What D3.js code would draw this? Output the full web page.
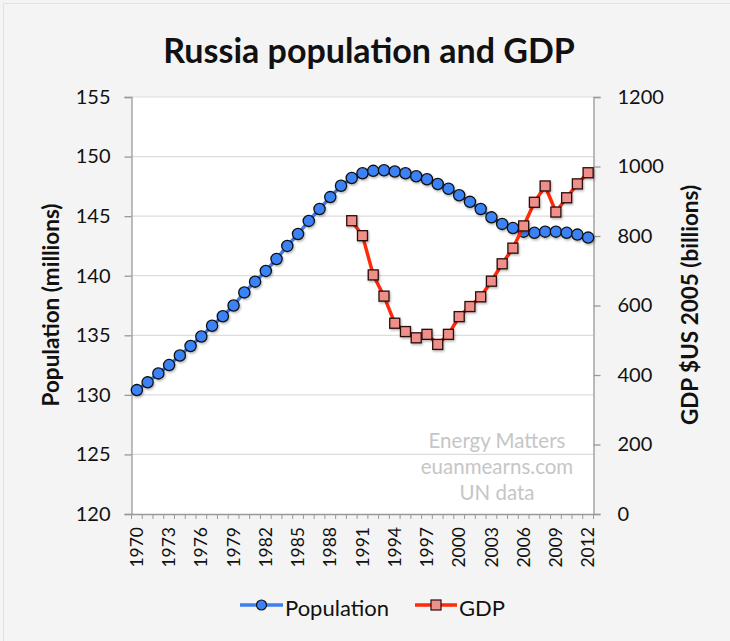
<!DOCTYPE html>
<html>
<head>
<meta charset="utf-8">
<script src="https://cdn.jsdelivr.net/npm/d3@7"></script>
<style>
  body { margin: 0; background: #f4f4f4; }
  svg text { font-family: Lato, "Open Sans", sans-serif; fill: #111; }
</style>
</head>
<body>
<script>

const years = d3.range(1970, 2013)

const population = [130.4, 131.05, 131.8, 132.5, 133.3, 134.1, 134.9, 135.8, 136.6, 137.5,
    138.6, 139.5, 140.4, 141.4, 142.5, 143.5, 144.6, 145.6, 146.6, 147.55,
    148.2, 148.6, 148.8, 148.85, 148.75, 148.6, 148.35, 148.1, 147.7, 147.3,
    146.75, 146.2, 145.6, 144.9, 144.35, 144.0, 143.7, 143.6, 143.7, 143.7,
    143.6, 143.45, 143.2]

const gdpYears = d3.range(1990, 2013)
const gdp = [844, 801, 688, 627, 549, 525, 507, 517, 488, 517,
    568, 597, 625, 670, 720, 765, 829, 897, 944, 869,
    910, 950, 982]

const popTicks = [120, 125, 130, 135, 140, 145, 150, 155]
const gdpTicks = [0, 200, 400, 600, 800, 1000, 1200]
const yearLabels = d3.range(1970, 2013, 3)
const watermark = ['Energy Matters', 'euanmearns.com', 'UN data']

const W = 730, H = 641
const mL = 131.5, mR = 593.5, mT = 97, mB = 514

const svg = d3.select('body')
    .append('svg')
    .attr('width', W)
    .attr('height', H)
    .style('display', 'block')

svg.append('rect')
    .attr('x', 3.5).attr('y', 3.5)
    .attr('width', W - 3).attr('height', H - 3)
    .attr('fill', '#f4f4f4')
    .attr('stroke', '#e2e2e2')

const x = d3.scaleBand()
    .domain(years)
    .range([mL, mR])

const yPop = d3.scaleLinear()
    .domain([120, 155])
    .range([mB, mT])

const yGdp = d3.scaleLinear()
    .domain([0, 1200])
    .range([mB, mT])

const cx = d => x(d) + x.bandwidth() / 2

// plot area
svg.append('rect')
    .attr('x', mL).attr('y', mT)
    .attr('width', mR - mL).attr('height', mB - mT)
    .attr('fill', '#fff')

svg.append('g')
    .selectAll('line')
    .data(popTicks.slice(1))
    .join('line')
    .attr('x1', mL).attr('x2', mR)
    .attr('y1', d => yPop(d)).attr('y2', d => yPop(d))
    .attr('stroke', '#dcdcdc')
    .attr('stroke-width', 1.2)

// title
svg.append('text')
    .attr('x', 369)
    .attr('y', 63)
    .attr('text-anchor', 'middle')
    .style('font-size', '34px')
    .style('font-weight', 'bold')
    .text('Russia population and GDP')

// axes
const axL = svg.append('g')
    .attr('transform', `translate(${mL},0)`)
    .call(d3.axisLeft(yPop).tickValues(popTicks).tickSize(7).tickPadding(14))
axL.selectAll('text').style('font-size', '20px')

const axR = svg.append('g')
    .attr('transform', `translate(${mR},0)`)
    .call(d3.axisRight(yGdp).tickValues(gdpTicks).tickFormat(d3.format('d')).tickSize(7).tickPadding(17))
axR.selectAll('text').style('font-size', '20px')

const axB = svg.append('g')
    .attr('transform', `translate(0,${mB})`)
    .call(d3.axisBottom(x).tickValues(yearLabels).tickSize(0))
axB.selectAll('text')
    .style('font-size', '17.5px')
    .attr('transform', 'rotate(-90)')
    .attr('text-anchor', 'end')
    .attr('dy', '0.35em')
    .attr('x', -13)
    .attr('y', 0)

// minor ticks between categories
svg.append('g')
    .selectAll('line')
    .data(years.concat([2013]))
    .join('line')
    .attr('x1', d => d === 2013 ? mR : x(d))
    .attr('x2', d => d === 2013 ? mR : x(d))
    .attr('y1', mB).attr('y2', mB + 5)
    .attr('stroke', '#999')

svg.selectAll('.domain, .tick line').attr('stroke', '#999').attr('stroke-width', 1.3)

// axis titles
svg.append('text')
    .attr('transform', 'translate(59,305) rotate(-90)')
    .attr('text-anchor', 'middle')
    .style('font-size', '22.5px')
    .style('font-weight', 'bold')
    .text('Population (millions)')

svg.append('text')
    .attr('transform', 'translate(698,305) rotate(-90)')
    .attr('text-anchor', 'middle')
    .style('font-size', '22.5px')
    .style('font-weight', 'bold')
    .text('GDP $US 2005 (billions)')

// watermark
svg.append('g')
    .selectAll('text')
    .data(watermark)
    .join('text')
    .attr('x', 497)
    .attr('y', (d, i) => 448 + i * 26)
    .attr('text-anchor', 'middle')
    .style('font-size', '20.5px')
    .style('fill', '#c6c6c6')
    .text(d => d)

// shadow
const defs = svg.append('defs')
defs.append('filter')
    .attr('id', 'sh')
    .append('feDropShadow')
    .attr('dx', 1).attr('dy', 1.5).attr('stdDeviation', 1)
    .attr('flood-color', '#000').attr('flood-opacity', 0.3)

// population
svg.append('path')
    .datum(years)
    .attr('fill', 'none')
    .attr('stroke', '#3f7fef')
    .attr('stroke-width', 3.5)
    .attr('d', d3.line().x(d => cx(d)).y((d, i) => yPop(population[i])))

svg.append('g')
    .attr('filter', 'url(#sh)')
    .selectAll('circle')
    .data(years)
    .join('circle')
    .attr('cx', d => cx(d))
    .attr('cy', (d, i) => yPop(population[i]))
    .attr('r', 5.6)
    .attr('fill', '#3b82f6')
    .attr('stroke', '#111')
    .attr('stroke-width', 1.3)

// gdp
svg.append('path')
    .datum(gdpYears)
    .attr('fill', 'none')
    .attr('stroke', '#ff2a0a')
    .attr('stroke-width', 3.5)
    .attr('d', d3.line().x(d => cx(d)).y((d, i) => yGdp(gdp[i])))

svg.append('g')
    .attr('filter', 'url(#sh)')
    .selectAll('rect')
    .data(gdpYears)
    .join('rect')
    .attr('x', d => cx(d) - 5)
    .attr('y', (d, i) => yGdp(gdp[i]) - 5)
    .attr('width', 10).attr('height', 10)
    .attr('fill', '#ef8f8a')
    .attr('stroke', '#2a0d0d')
    .attr('stroke-width', 1.3)

// legend
const lg = svg.append('g')

lg.append('line')
    .attr('x1', 240).attr('x2', 283).attr('y1', 605).attr('y2', 605)
    .attr('stroke', '#3f7fef').attr('stroke-width', 3.5)
lg.append('circle')
    .attr('cx', 261.5).attr('cy', 605).attr('r', 5)
    .attr('fill', '#3b82f6').attr('stroke', '#111').attr('stroke-width', 1.2)
lg.append('text')
    .attr('x', 285).attr('y', 616)
    .style('font-size', '22px')
    .text('Population')

lg.append('line')
    .attr('x1', 415).attr('x2', 457).attr('y1', 605).attr('y2', 605)
    .attr('stroke', '#ff2a0a').attr('stroke-width', 3.5)
lg.append('rect')
    .attr('x', 431).attr('y', 600).attr('width', 10).attr('height', 10)
    .attr('fill', '#ef8f8a').attr('stroke', '#2a0d0d').attr('stroke-width', 1.2)
lg.append('text')
    .attr('x', 459).attr('y', 616)
    .style('font-size', '22px')
    .text('GDP')

</script>
</body>
</html>
